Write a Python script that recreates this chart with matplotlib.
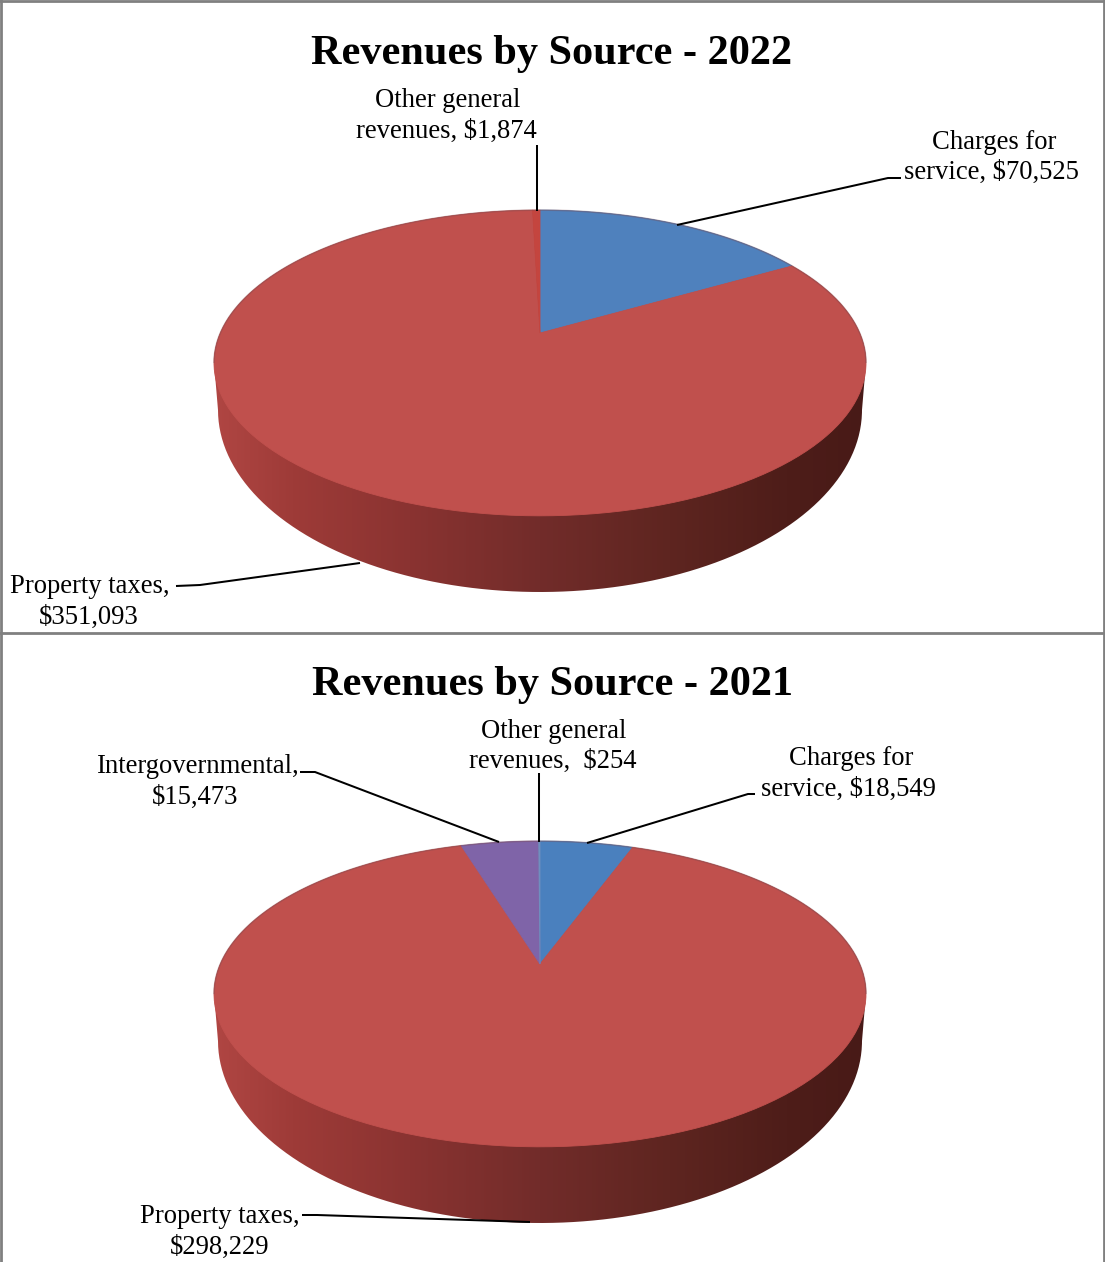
import numpy as np
import matplotlib
matplotlib.use("Agg")
import matplotlib.pyplot as plt
from matplotlib.colors import LinearSegmentedColormap
from matplotlib.patches import Polygon, PathPatch
from matplotlib.path import Path

plt.rcParams['font.family'] = ['Liberation Serif', 'DejaVu Serif']

# pie data, clockwise from the top
values_2022 = [70525, 351093, 1874]
colors_2022 = ['#4F81BD', '#C0504D', '#C4453F']
values_2021 = [18549, 298229, 15473, 254]
colors_2021 = ['#4A80BE', '#C0504D', '#7F64A8', '#6F8FBE']

title_2022 = 'Revenues by Source - 2022'
title_2021 = 'Revenues by Source - 2021'

side_cmap = LinearSegmentedColormap.from_list('side', [
    (0.00, '#B04643'), (0.12, '#9E3B38'), (0.30, '#8A3331'), (0.50, '#722C2A'),
    (0.70, '#5E2520'), (0.88, '#4E1D19'), (1.00, '#481A17')])

W, H = 1105, 1262
fig = plt.figure(figsize=(W / 100, H / 100), dpi=100)
ax = fig.add_axes([0, 0, 1, 1])


def project(theta, apex_y):
    # circle seen in perspective, theta measured clockwise from the top
    k, a, b = 0.196, 319.7, 147.0
    X, Y = np.sin(theta), np.cos(theta)
    w = 1 + k * Y
    return 540 + a * X / w, apex_y - b * Y / w


def draw_pie(values, colors, apex_y):
    # side wall first
    t = np.linspace(0, 2 * np.pi, 400)
    tx, ty = project(t, apex_y)
    i_right, i_left = np.argmax(tx), np.argmin(tx)
    upper = np.r_[i_right:-1:-1, len(t) - 2:i_left - 1:-1]
    low = np.linspace(0, np.pi, 200)
    lx = 540 - 322 * np.cos(low)
    ly = apex_y + 77 + 182 * np.sin(low)
    verts = np.r_[np.c_[lx, ly], np.c_[tx[upper], ty[upper]]]
    img = ax.imshow(np.linspace(0, 1, 256).reshape(1, -1), cmap=side_cmap, aspect='auto',
                    extent=(214, 866, apex_y + 262, apex_y - 130), zorder=1)
    clip = PathPatch(Path(np.r_[verts, verts[:1]]), transform=ax.transData, fc='none', ec='none')
    ax.add_patch(clip)
    img.set_clip_path(clip)

    # top surface from the values
    fracs = np.array(values) / sum(values)
    edges = np.r_[0, np.cumsum(fracs)] * 2 * np.pi
    for start, end, col in zip(edges[:-1], edges[1:], colors):
        th = np.linspace(start, end, 150)
        px, py = project(th, apex_y)
        pts = np.r_[[[540, apex_y]], np.c_[px, py]]
        ax.add_patch(Polygon(pts, closed=True, fc=col, ec=col, lw=0.6, zorder=2))

    # soft darker rim along the back edge
    ax.plot(tx[upper], ty[upper], color='#7A4A50', lw=1.2, alpha=0.35, zorder=2.5)


def leader(xs, ys):
    ax.plot(xs, ys, color='black', lw=1.45, solid_capstyle='butt', zorder=3)


def label(x, y, s):
    ax.text(x, y, s, ha='center', va='baseline', fontsize=19.2, color='black', zorder=4)


draw_pie(values_2022, colors_2022, 333)
draw_pie(values_2021, colors_2021, 964)

ax.text(552, 64, title_2022, ha='center', va='baseline', fontsize=30.4, fontweight='bold')
ax.text(553, 695, title_2021, ha='center', va='baseline', fontsize=30.4, fontweight='bold')

label(448, 107, 'Other general')
label(446, 138, 'revenues, $1,874')
label(994, 149, 'Charges for')
label(991, 179, 'service, $70,525')
label(90, 593, 'Property taxes,')
label(89, 624, '$351,093')

label(554, 738, 'Other general')
label(553, 768, 'revenues,  $254')
label(851, 765, 'Charges for')
label(848, 796, 'service, $18,549')
label(198, 773, 'Intergovernmental,')
label(195, 804, '$15,473')
label(220, 1223, 'Property taxes,')
label(220, 1254, '$298,229')

leader([537, 537], [145, 211])
leader([901, 888, 677], [178, 178, 225])
leader([176, 200, 360], [586, 585, 563])
leader([539, 539], [773, 842])
leader([755, 748, 587], [794, 794, 843])
leader([300, 315, 499], [772, 772, 842])
leader([302, 317, 530], [1215, 1215, 1222])

# panel frames
frame = '#808080'
ax.plot([0, W], [1, 1], color=frame, lw=2, zorder=5)
ax.plot([0, W], [632.5, 632.5], color=frame, lw=2, zorder=5)
ax.plot([1, 1], [0, H], color=frame, lw=2, zorder=5)
ax.plot([W - 1, W - 1], [0, H], color=frame, lw=2, zorder=5)

ax.set_xlim(0, W)
ax.set_ylim(H, 0)
ax.axis('off')

fig.savefig('out.png', dpi=100, facecolor='white')
